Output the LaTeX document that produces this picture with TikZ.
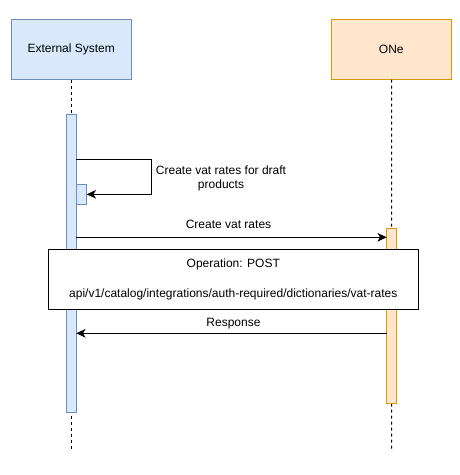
\documentclass[tikz,border=0pt]{standalone}
\usepackage{fontspec}
\setmainfont{Liberation Sans}
\usetikzlibrary{arrows.meta}
\definecolor{bluefill}{HTML}{DAE8FC}
\definecolor{blueline}{HTML}{6C8EBF}
\definecolor{orangefill}{HTML}{FFE6CC}
\definecolor{orangeline}{HTML}{D79B00}
\begin{document}
\begin{tikzpicture}[x=0.75pt,y=-0.75pt,
  every node/.style={font=\fontsize{9}{10.5}\selectfont, inner sep=0pt},
  actor/.style={draw, line width=0.75pt, minimum width=90pt, minimum height=45pt},
  extactor/.style={actor, fill=bluefill, draw=blueline},
  oneactor/.style={actor, fill=orangefill, draw=orangeline},
  lifeline/.style={line width=0.75pt, dash pattern=on 2.25pt off 2.25pt},
  msgb/.style={line width=0.75pt, -{Stealth[length=7pt,width=6.5pt,inset=2pt]}},
  opbox/.style={draw, fill=white, line width=0.75pt}
]
\useasboundingbox (0,0) rectangle (460,475);
% actors
\node[extactor] (ext) at (71.25,49) {External System};
\node[oneactor] (one) at (391.25,49) {ONe};
% lifelines
\coordinate (extend) at (71.25,449);
\coordinate (oneend) at (391.7,449);
\draw[lifeline] (ext.south) -- (extend);
\draw[lifeline] ([xshift=0.3pt]one.south) -- (oneend);
% activations
\draw[fill=bluefill, draw=blueline, line width=0.75pt] (66.5,114.3) rectangle (76.3,412.3);
\draw[fill=bluefill, draw=blueline, line width=0.75pt] (76.3,184.3) rectangle (86.7,204.3);
\draw[fill=orangefill, draw=orangeline, line width=0.75pt] (386.7,228.3) rectangle (396.7,403.3);
% self message
\coordinate (s1) at (76.3,159.7);
\coordinate (s2) at (151.3,159.7);
\coordinate (s3) at (151.3,194.3);
\coordinate (s4) at (86.7,194.3);
\draw[msgb] (s1) -- (s2) -- (s3) -- (s4);
\node[align=center] (selflbl) at (221,178.5) {Create vat rates for draft\\products};
% create vat rates
\coordinate (c1) at (76.3,237.3);
\coordinate (c2) at (386.7,237.3);
\draw[msgb] (c1) -- (c2);
\node (createlbl) at (228.5,224.5) {Create vat rates};
% operation box
\node[opbox, minimum width=277.5pt, minimum height=45pt] (op) at (233.3,279.3) {};
\node (oplbl1) at (233.3,264.5) {Operation: POST};
\node (oplbl2) at (233.3,294) {api/v1/catalog/integrations/auth-required/dictionaries/vat-rates};
% response
\coordinate (r1) at (386.7,333.3);
\coordinate (r2) at (76.3,333.3);
\draw[msgb] (r1) -- (r2);
\node (resplbl) at (233.5,323.5) {Response};
\end{tikzpicture}
\end{document}
